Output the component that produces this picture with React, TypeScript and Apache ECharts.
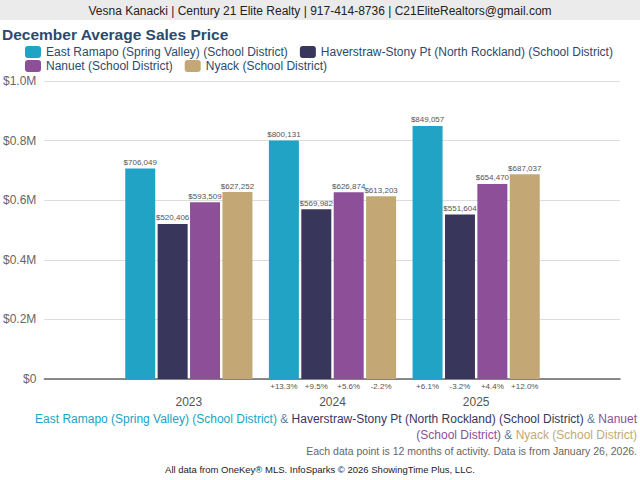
import React, { useEffect, useRef } from "react";
import * as echarts from "echarts";

const categories = ["2023", "2024", "2025"];
const districtNames = [
  "East Ramapo (Spring Valley) (School District)",
  "Haverstraw-Stony Pt (North Rockland) (School District)",
  "Nanuet (School District)",
  "Nyack (School District)",
];
const eastRamapo = [706049, 800131, 849057];
const haverstraw = [520406, 569982, 551604];
const nanuet = [593509, 626874, 654470];
const nyack = [627252, 613203, 687037];
const pctEastRamapo = ["", "+13.3%", "+6.1%"];
const pctHaverstraw = ["", "+9.5%", "-3.2%"];
const pctNanuet = ["", "+5.6%", "+4.4%"];
const pctNyack = ["", "-2.2%", "+12.0%"];
const colors = ["#20a3c4", "#38365b", "#8d4f98", "#c3a876"];

const FONT = "'Liberation Sans', Arial, Helvetica, sans-serif";
const BAR_W = 30;
const BAR_GAP = 0.08;

export default function App() {
  const ref = useRef<HTMLDivElement>(null);
  useEffect(() => {
    if (!ref.current) return;
    const chart = echarts.init(ref.current, null, { renderer: "svg" });
    const values = [eastRamapo, haverstraw, nanuet, nyack];
    const pcts = [pctEastRamapo, pctHaverstraw, pctNanuet, pctNyack];

    const barSeries = values.map((vals, k) => ({
      name: districtNames[k],
      type: "bar",
      xAxisIndex: 1,
      yAxisIndex: 1,
      data: vals,
      barWidth: BAR_W,
      barGap: BAR_GAP * 100 + "%",
      itemStyle: { color: colors[k] },
      label: {
        show: true,
        position: "top",
        distance: 2,
        fontSize: 8,
        color: "#555",
        fontFamily: FONT,
        formatter: (p: any) => "$" + Number(p.value).toLocaleString("en-US"),
      },
    }));

    const pctSeries = pcts.map((arr, k) => ({
      type: "custom",
      xAxisIndex: 1,
      yAxisIndex: 1,
      silent: true,
      data: arr.map((_, i) => [i, 0]),
      renderItem: (params: any, api: any) => {
        const txt = arr[params.dataIndex];
        if (!txt) return null;
        const base = api.coord([api.value(0), 0]);
        const step = BAR_W * (1 + BAR_GAP);
        const x = base[0] + (k - 1.5) * step;
        return {
          type: "text",
          x,
          y: base[1] + 7,
          style: {
            text: txt,
            align: "center",
            verticalAlign: "middle",
            fill: "#555",
            fontSize: 8,
            fontFamily: FONT,
          },
        };
      },
    }));

    const legendBase = {
      left: 25,
      itemWidth: 16,
      itemHeight: 12,
      itemGap: 12,
      icon: "roundRect",
      padding: 0,
      textStyle: { color: "#2c4a6b", fontSize: 12, fontFamily: FONT },
    };

    const option: any = {
      animation: false,
      backgroundColor: "#fff",
      textStyle: { fontFamily: FONT },
      grid: [
        { left: 44, right: 20, top: 81, bottom: 101 },
        { left: 117, right: 92, top: 81, bottom: 101 },
      ],
      xAxis: [
        {
          gridIndex: 0,
          type: "category",
          data: ["x"],
          offset: 11,
          axisLine: { show: true, lineStyle: { color: "#666", width: 1.5 } },
          axisTick: { show: false },
          axisLabel: { show: false },
        },
        {
          gridIndex: 1,
          type: "category",
          data: categories,
          axisLine: { show: false },
          axisTick: { show: false },
          axisLabel: { color: "#555", fontSize: 12, margin: 17, fontFamily: FONT },
        },
      ],
      yAxis: [
        {
          gridIndex: 0,
          type: "value",
          min: 0,
          max: 1000000,
          interval: 200000,
          axisLine: { show: false },
          axisTick: { show: false },
          splitLine: { lineStyle: { color: "#dcdcdc" } },
          axisLabel: {
            color: "#666",
            fontSize: 12,
            margin: 8,
            fontFamily: FONT,
            formatter: (v: number) => (v === 0 ? "$0" : "$" + (v / 1e6).toFixed(1) + "M"),
          },
        },
        { gridIndex: 1, type: "value", min: 0, max: 1000000, show: false },
      ],
      legend: [
        { ...legendBase, data: districtNames.slice(0, 2), top: 46 },
        { ...legendBase, data: districtNames.slice(2), top: 60 },
      ],
      graphic: [
        { type: "rect", shape: { x: 0, y: 0, width: 640, height: 20 }, style: { fill: "#ebebeb" }, z: -1 },
        {
          type: "text",
          x: 320,
          y: 11,
          style: {
            text: "Vesna Kanacki | Century 21 Elite Realty | 917-414-8736 | C21EliteRealtors@gmail.com",
            align: "center",
            verticalAlign: "middle",
            fill: "#222",
            fontSize: 12,
            fontFamily: FONT,
          },
        },
        {
          type: "text",
          x: 2,
          y: 34,
          style: {
            text: "December Average Sales Price",
            align: "left",
            verticalAlign: "middle",
            fill: "#2c4a6b",
            fontSize: 15.5,
            fontWeight: "bold",
            fontFamily: FONT,
          },
        },
        {
          type: "text",
          x: 637,
          y: 419,
          style: {
            text:
              "{a|East Ramapo (Spring Valley) (School District)}{s| & }{b|Haverstraw-Stony Pt (North Rockland) (School District)}{s| & }{c|Nanuet}",
            align: "right",
            verticalAlign: "middle",
            fontSize: 12,
            fontFamily: FONT,
            rich: {
              a: { fill: colors[0], fontSize: 12, fontFamily: FONT },
              b: { fill: colors[1], fontSize: 12, fontFamily: FONT },
              c: { fill: colors[2], fontSize: 12, fontFamily: FONT },
              s: { fill: "#5a7fa8", fontSize: 12, fontFamily: FONT },
            },
          },
        },
        {
          type: "text",
          x: 637,
          y: 435,
          style: {
            text: "{c|(School District)}{s| & }{d|Nyack (School District)}",
            align: "right",
            verticalAlign: "middle",
            fontSize: 12,
            fontFamily: FONT,
            rich: {
              c: { fill: colors[2], fontSize: 12, fontFamily: FONT },
              d: { fill: colors[3], fontSize: 12, fontFamily: FONT },
              s: { fill: "#5a7fa8", fontSize: 12, fontFamily: FONT },
            },
          },
        },
        {
          type: "text",
          x: 637,
          y: 451,
          style: {
            text: "Each data point is 12 months of activity. Data is from January 26, 2026.",
            align: "right",
            verticalAlign: "middle",
            fill: "#666",
            fontSize: 10.5,
            fontFamily: FONT,
          },
        },
        {
          type: "text",
          x: 320,
          y: 469,
          style: {
            text: "All data from OneKey\u00ae MLS. InfoSparks \u00a9 2026 ShowingTime Plus, LLC.",
            align: "center",
            verticalAlign: "middle",
            fill: "#222",
            fontSize: 9.5,
            fontFamily: FONT,
          },
        },
      ],
      series: [...barSeries, ...pctSeries],
    };
    chart.setOption(option);
    return () => chart.dispose();
  }, []);

  return (
    <div
      ref={ref}
      style={{ position: "fixed", left: 0, top: 0, width: 640, height: 480 }}
    />
  );
}
